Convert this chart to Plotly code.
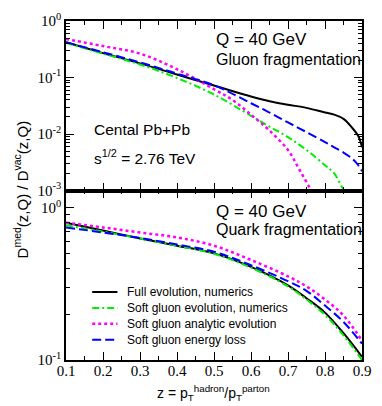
import plotly.graph_objects as go
from plotly.subplots import make_subplots

# z = pT(hadron)/pT(parton)
z = [0.1, 0.2, 0.3, 0.4, 0.5, 0.6, 0.65, 0.7, 0.75, 0.8, 0.825, 0.85, 0.875, 0.89, 0.9]

# gluon fragmentation (top panel)
gluon_full = [0.42, 0.27, 0.178, 0.113, 0.072, 0.046, 0.038, 0.033, 0.029, 0.024, 0.022, 0.0185, 0.0125, 0.0092, 0.0058]
gluon_soft_num = [0.41, 0.265, 0.17, 0.098, 0.050, 0.021, 0.0135, 0.0088, 0.0052, 0.0028, 0.0020, 0.00105, 0.0007, 0.0005, 0.0004]
z_gluon_analytic = [0.1, 0.2, 0.3, 0.4, 0.5, 0.55, 0.6, 0.65, 0.7, 0.73, 0.76, 0.78]
gluon_analytic = [0.48, 0.36, 0.265, 0.14, 0.062, 0.040, 0.022, 0.0115, 0.0052, 0.0024, 0.00107, 0.0006]
gluon_eloss = [0.42, 0.28, 0.185, 0.117, 0.073, 0.035, 0.024, 0.016, 0.0108, 0.0072, 0.0058, 0.0047, 0.0036, 0.0028, 0.0022]

# quark fragmentation (bottom panel)
z_q = [0.1, 0.2, 0.3, 0.4, 0.5, 0.6, 0.7, 0.75, 0.8, 0.85, 0.9]
quark_full = [0.80, 0.71, 0.63, 0.565, 0.503, 0.41, 0.31, 0.255, 0.205, 0.150, 0.105]
quark_soft_num = [0.77, 0.70, 0.63, 0.565, 0.50, 0.405, 0.305, 0.25, 0.198, 0.145, 0.100]
quark_analytic = [0.80, 0.745, 0.69, 0.64, 0.565, 0.455, 0.355, 0.305, 0.25, 0.196, 0.134]
quark_eloss = [0.745, 0.69, 0.635, 0.575, 0.515, 0.42, 0.33, 0.285, 0.228, 0.178, 0.128]

names = ["Full evolution, numerics", "Soft gluon evolution, numerics",
         "Soft gluon analytic evolution", "Soft gluon energy loss"]
colors = ["black", "#00ee00", "#ff00ff", "#0000ff"]
dashes = ["solid", "7px,3px,2px,3px", "3px,3px", "9px,4px"]
widths = [2, 2, 2.5, 2]

W, H = 382, 406
L, R, T, B = 66, 11, 11, 46


def paper(px, py):
    # pixel position in the picture -> paper coords of the plot area
    return (px - L) / (W - L - R), (H - B - py) / (H - T - B)


fig = make_subplots(rows=2, cols=1, shared_xaxes=True, vertical_spacing=0)

top = [(z, gluon_full), (z, gluon_soft_num), (z_gluon_analytic, gluon_analytic), (z, gluon_eloss)]
bottom = [quark_full, quark_soft_num, quark_analytic, quark_eloss]

for i in range(4):
    fig.add_trace(go.Scatter(x=top[i][0], y=top[i][1], mode="lines", showlegend=False,
                             line=dict(color=colors[i], dash=dashes[i], width=widths[i], shape="spline")),
                  row=1, col=1)
for i in range(4):
    fig.add_trace(go.Scatter(x=z_q, y=bottom[i], mode="lines", showlegend=False,
                             line=dict(color=colors[i], dash=dashes[i], width=widths[i], shape="spline")),
                  row=2, col=1)

tickfont = dict(family="Liberation Serif", size=15, color="black")
axis_style = dict(showline=True, linecolor="black", linewidth=1.5, mirror="allticks",
                  ticks="inside", ticklen=8, tickwidth=1.2, tickcolor="black",
                  showgrid=False, zeroline=False, tickfont=tickfont)
minor_y = dict(ticks="inside", ticklen=4, tickcolor="black",
               tickvals=[k * 10 ** e for e in (-3, -2, -1) for k in range(2, 10)])

fig.update_xaxes(range=[0.1, 0.9], tickvals=[0.1, 0.2, 0.3, 0.4, 0.5, 0.6, 0.7, 0.8, 0.9],
                 minor=dict(ticks="inside", ticklen=4, tickcolor="black", dtick=0.05),
                 **axis_style)
fig.update_xaxes(showticklabels=False, row=1, col=1)
fig.update_xaxes(ticktext=["0.1", "0.2", "0.3", "0.4", "0.5", "0.6", "0.7", "0.8", "0.9"],
                 ticklabelstandoff=-4, row=2, col=1)

fig.update_yaxes(type="log", range=[-3, 0], tickvals=[1, 0.1, 0.01, 0.001],
                 ticktext=["10<sup>0</sup>", "10<sup>-1</sup>", "10<sup>-2</sup>", "10<sup>-3</sup>"],
                 minor=minor_y, row=1, col=1, **axis_style)
fig.update_yaxes(type="log", range=[-1, 0.115], tickvals=[1, 0.1],
                 ticktext=["10<sup>0</sup>", "10<sup>-1</sup>"],
                 minor=minor_y, row=2, col=1, **axis_style)

sans = "Liberation Sans"
notes = [
    (218, 30, "Q = 40 GeV", 17),
    (218, 51, "Gluon fragmentation", 16),
    (93, 123, "Cental Pb+Pb", 15.5),
    (93, 151, "s<sup>1/2</sup> = 2.76 TeV", 15.5),
    (219, 207, "Q = 40 GeV", 17),
    (219, 226, "Quark fragmentation", 16),
]
for px, py, text, size in notes:
    x, y = paper(px, py)
    fig.add_annotation(x=x, y=y, xref="paper", yref="paper", text=text,
                       showarrow=False, xanchor="left", yanchor="middle",
                       font=dict(family=sans, size=size, color="black"))

# legend drawn by hand so the rows sit as tight as in the original
for i, name in enumerate(names):
    row_y = 290 + i * 16.4
    x0, y0 = paper(93, row_y)
    x1, _ = paper(119, row_y)
    fig.add_shape(type="line", xref="paper", yref="paper", x0=x0, x1=x1, y0=y0, y1=y0,
                  line=dict(color=colors[i], dash=dashes[i], width=widths[i]))
    xt, _ = paper(127, row_y)
    fig.add_annotation(x=xt, y=y0, xref="paper", yref="paper", text=name,
                       showarrow=False, xanchor="left", yanchor="middle",
                       font=dict(family=sans, size=12, color="black"))

x, y = paper(19, 184)
fig.add_annotation(x=x, y=y, xref="paper", yref="paper",
                   text="D<sup>med</sup>(z,Q) / D<sup>vac</sup>(z,Q)", textangle=-90,
                   showarrow=False, xanchor="center", yanchor="middle",
                   font=dict(family=sans, size=15, color="black"))
x, y = paper(218, 394)
fig.add_annotation(x=x, y=y, xref="paper", yref="paper",
                   text="z = p<sub>T</sub><sup>hadron</sup>/p<sub>T</sub><sup>parton</sup>",
                   showarrow=False, xanchor="center", yanchor="middle",
                   font=dict(family=sans, size=14, color="black"))

fig.update_layout(
    width=W, height=H,
    margin=dict(l=L, r=R, t=T, b=B),
    plot_bgcolor="white", paper_bgcolor="white",
    showlegend=False,
)

fig.write_html("out.html", config={"displayModeBar": False},
               post_script="document.body.style.margin='0';")
